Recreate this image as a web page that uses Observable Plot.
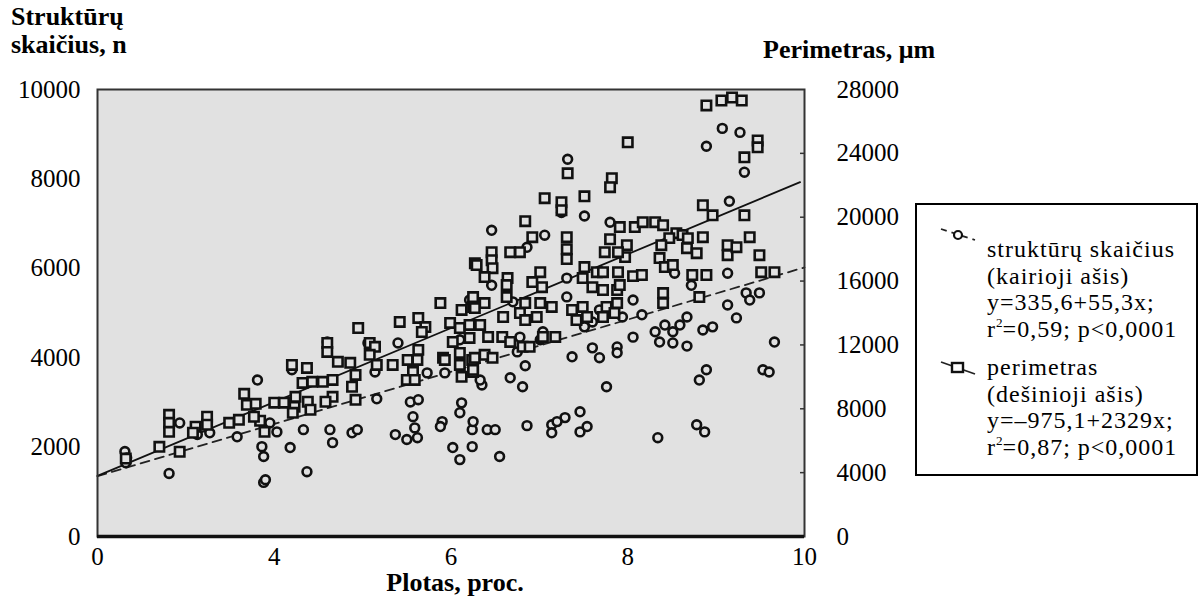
<!DOCTYPE html>
<html>
<head>
<meta charset="utf-8">
<script src="https://cdn.jsdelivr.net/npm/d3@7"></script>
<script src="https://cdn.jsdelivr.net/npm/@observablehq/plot@0.6"></script>
<style>
  body { margin: 0; background: #fff; }
  #wrap { position: relative; width: 1199px; height: 606px; font-family: "Liberation Serif", "Times New Roman", serif; color: #000; }
  #chart { position: absolute; left: 0; top: 0; }
  .ttl { position: absolute; font-family: "Liberation Serif", serif; font-weight: bold; font-size: 26px; line-height: 28px; white-space: nowrap; }
  #legend { position: absolute; left: 915px; top: 203px; width: 279px; height: 269px; border: 2px solid #000; background: #fff; }
  .lg { position: absolute; left: 70px; font-family: "Liberation Serif", serif; font-size: 24px; letter-spacing: 1px; line-height: 26.6px; white-space: nowrap; }
  .lg sup { font-size: 0.55em; line-height: 0; vertical-align: 0.75em; letter-spacing: 0; }
  .sym { position: absolute; left: 22px; }
</style>
</head>
<body>
<div id="wrap">
  <div id="chart"></div>
  <div class="ttl" style="left:11px; top:3px;">Struktūrų<br>skaičius, n</div>
  <div class="ttl" style="left:763px; top:36px;">Perimetras, μm</div>
  <div class="ttl" style="left:455px; top:569px; transform: translateX(-50%);">Plotas, proc.</div>
  <div id="legend">
    <svg class="sym" style="top:20px" width="40" height="20">
      <line x1="2" y1="4" x2="36" y2="15" stroke="#222" stroke-width="1.8" stroke-dasharray="6,5"/>
      <circle cx="19" cy="10" r="4" fill="#fff" stroke="#111" stroke-width="2.2"/>
    </svg>
    <div class="lg" style="top:31px;">struktūrų skaičius<br>(kairioji ašis)<br>y=335,6+55,3x;<br>r<sup>2</sup>=0,59; p&lt;0,0001</div>
    <svg class="sym" style="top:153px" width="40" height="20">
      <line x1="2" y1="4" x2="36" y2="16" stroke="#222" stroke-width="1.8"/>
      <rect x="13" y="5" width="11" height="9" fill="#fff" stroke="#111" stroke-width="2.4"/>
    </svg>
    <div class="lg" style="top:149px;">perimetras<br>(dešinioji ašis)<br>y=–975,1+2329x;<br>r<sup>2</sup>=0,87; p&lt;0,0001</div>
  </div>
</div>
<script>
// Tick values and labels
const xTicks = [2, 4, 6, 8, 10];
const xTickLabels = ["0", "4", "6", "8", "10"];
const leftTicks = [0, 2000, 4000, 6000, 8000, 10000];
const rightTicks = [0, 4000, 8000, 12000, 16000, 20000, 24000, 28000];
const rightMax = 28000;
const leftMax = 10000;

// Struktūrų skaičius (left axis) — [plotas, n]
const strukturuSkaicius = [
  [2.31,1900],[2.33,1760],[2.32,1650],[2.81,1410],[2.93,2540],[3.27,2320],[3.13,2280],[3.58,2230],
  [3.81,3500],[3.86,2010],[3.88,1790],[3.88,1210],[3.90,1270],[4.20,3730],[4.18,1990],[4.03,2340],
  [3.95,2540],[4.33,2390],[4.37,1450],[4.63,2390],[4.66,2100],[4.88,2320],[4.94,2390],[5.16,3080],
  [5.37,2280],[5.50,2170],[5.62,2210],[5.59,2430],[5.57,2680],[5.54,3010],[5.63,3060],[5.90,2570],
  [5.88,2460],[6.12,2990],[6.10,2770],[6.24,2390],[6.25,2570],[6.24,2010],[6.02,1990],[6.10,1720],
  [4.60,4350],[5.14,3680],[5.40,4330],[5.73,3660],[5.93,3660],[7.32,8440],[7.25,7250],[7.51,7170],
  [6.46,6850],[7.80,7030],[7.06,6740],[6.86,6470],[7.31,5780],[7.31,5360],[8.06,5290],[8.16,4960],
  [7.94,4910],[7.60,4800],[7.51,4690],[6.75,4130],[6.84,3820],[7.01,4400],[7.04,4580],[6.78,4460],
  [6.67,3550],[6.81,3350],[6.35,3390],[6.33,3500],[7.37,4020],[7.60,4220],[7.68,4000],[7.88,4240],
  [7.88,4110],[8.06,4460],[7.76,3350],[6.41,2390],[6.50,2390],[6.55,1790],[6.86,2480],[7.14,2500],
  [7.14,2320],[7.29,2660],[7.46,2790],[7.46,2340],[7.54,2460],[7.20,2570],[9.07,9130],[9.27,9040],
  [8.89,8730],[9.32,8150],[9.15,7500],[8.53,5890],[9.13,5890],[8.72,5620],[9.13,5180],[9.34,5450],
  [9.38,5290],[9.49,5450],[9.23,4890],[8.31,4580],[8.42,4730],[8.51,4580],[8.59,4730],[8.67,4910],
  [8.36,4350],[8.51,4330],[8.67,4260],[8.85,4620],[8.96,4690],[9.66,4350],[8.89,3730],[8.81,3500],
  [9.53,3730],[9.60,3680],[8.78,2500],[8.87,2340],[8.34,2210],[6.46,5620],[6.70,5250],[5.06,4330],
  [6.21,5290],[6.10,4400],[7.68,5070]
];

// Perimetras (right axis) — [plotas, µm]
const perimetras = [
  [2.32,4880],[2.70,5620],[2.93,5310],[2.81,7620],[2.81,7120],[2.81,6560],[3.11,6880],[3.08,6500],
  [3.24,7500],[3.24,7000],[3.49,7120],[3.60,7310],[3.66,8940],[3.69,8250],[3.79,8310],[3.84,7250],
  [3.89,6560],[3.77,7500],[4.20,10750],[4.00,8380],[4.11,8380],[4.23,8120],[6.27,17120],[5.88,14620],
  [6.12,14190],[6.25,15000],[6.25,14380],[5.42,13440],[5.63,13690],[5.71,13120],[5.67,12810],[4.95,13060],
  [5.99,13380],[6.10,13060],[6.21,13250],[6.21,12440],[6.02,12190],[6.10,11500],[5.91,11190],[6.10,10750],
  [6.24,11060],[6.12,10000],[6.25,10310],[4.60,12120],[4.60,11560],[4.72,10940],[4.86,10880],[4.92,10120],
  [4.88,9380],[4.92,8560],[5.08,12120],[5.14,11880],[5.08,11380],[5.16,10750],[5.34,10750],[5.51,11060],
  [5.63,11690],[5.62,11060],[5.57,10310],[5.50,9810],[5.59,9810],[5.93,11060],[4.37,10560],[4.32,9620],
  [4.43,9690],[4.55,9690],[4.66,9810],[4.24,8750],[4.38,8440],[4.66,8750],[4.58,8440],[4.41,7940],
  [4.21,7750],[7.32,22750],[7.82,22440],[7.80,21880],[7.06,21190],[7.25,20940],[7.25,20440],[7.51,21310],
  [6.84,19750],[7.91,19380],[8.08,19380],[8.17,19690],[6.92,18750],[6.67,17810],[6.78,17810],[7.31,18750],
  [7.31,18000],[7.31,17380],[7.80,18620],[7.74,17810],[7.99,18250],[7.97,17500],[7.89,17810],[6.46,17810],
  [6.46,17310],[6.29,17000],[6.47,16810],[7.51,16880],[7.65,16560],[7.72,16560],[7.89,16560],[8.06,16310],
  [7.01,16560],[6.92,15940],[7.03,15620],[6.64,16190],[6.63,15750],[6.63,15000],[6.38,16250],[7.49,16190],
  [7.60,15620],[7.72,15440],[7.88,15440],[7.91,15750],[6.38,14620],[6.27,14310],[6.84,14620],[7.01,14620],
  [7.14,14380],[6.78,14000],[6.59,13750],[6.97,13750],[6.84,13560],[7.37,14190],[7.49,14380],[7.42,13560],
  [7.54,13750],[7.76,14380],[7.88,14620],[7.72,13750],[7.85,14000],[6.33,13250],[6.42,12500],[6.58,12500],
  [6.67,12190],[6.81,11880],[6.89,11880],[7.18,12500],[7.04,12500],[6.27,11190],[6.38,11380],[6.47,11190],
  [6.25,10440],[8.89,27000],[9.06,27310],[9.18,27500],[9.29,27310],[9.47,24810],[9.47,24380],[9.32,23750],
  [8.00,24690],[8.85,20750],[8.96,20120],[9.32,20120],[8.31,19690],[8.40,19500],[8.55,19000],[8.62,18880],
  [8.47,18690],[8.38,18250],[8.68,18690],[8.85,18750],[8.67,18060],[8.78,17750],[9.13,18250],[9.13,17620],
  [9.23,18120],[9.38,18750],[9.49,17620],[8.36,17440],[8.42,16880],[8.51,17000],[8.73,16380],[8.89,16380],
  [8.81,15000],[9.51,16560],[9.66,16560],[8.16,16380],[8.40,15250],[8.40,14620]
];

// Regression lines
const trendSkaicius = [[2, 1350], [10, 6020]];      // dashed, left axis
const trendPerimetras = [[2, 3800], [9.95, 22200]]; // solid, right axis

const ratio = rightMax / leftMax;
const bg = "#e1e1e1";
const serif = "'Liberation Serif', 'Times New Roman', serif";

const chart = Plot.plot({
  width: 1199,
  height: 606,
  marginLeft: 97,
  marginRight: 395,
  marginTop: 89,
  marginBottom: 70,
  style: { fontFamily: serif, fontSize: "25px", color: "#000", background: "transparent", overflow: "visible" },
  x: { domain: [2, 10], label: null },
  y: { domain: [0, leftMax], label: null },
  marks: [
    Plot.frame({ fill: bg, stroke: null }),
    Plot.axisY(leftTicks, { anchor: "left", tickSize: 0, tickPadding: 17, label: null, fontSize: 25, fontFamily: serif, tickFormat: d => String(d) }),
    Plot.axisY(rightTicks.map(t => t / ratio), { anchor: "right", tickSize: 0, tickPadding: 32, label: null, fontSize: 25, fontFamily: serif, tickFormat: d => String(Math.round(d * ratio)) }),
    Plot.axisX(xTicks, { anchor: "bottom", tickSize: 0, tickPadding: 11, label: null, fontSize: 25, fontFamily: serif, tickFormat: d => xTickLabels[xTicks.indexOf(d)] }),
    Plot.ruleY(rightTicks.slice(1, -1).map(t => t / ratio), { x1: 9.955, x2: 10, stroke: "#333", strokeWidth: 1.5 }),
    Plot.line(trendSkaicius, { x: d => d[0], y: d => d[1], stroke: "#222", strokeWidth: 1.8, strokeDasharray: "9,6" }),
    Plot.line(trendPerimetras, { x: d => d[0], y: d => d[1] / ratio, stroke: "#111", strokeWidth: 1.8 }),
    Plot.dot(strukturuSkaicius, { x: d => d[0], y: d => d[1], r: 4.4, stroke: "#111", strokeWidth: 2.6, fill: bg }),
    Plot.dot(perimetras, { x: d => d[0], y: d => d[1] / ratio, symbol: "square", r: 5.3, stroke: "#111", strokeWidth: 2.6, fill: bg }),
    Plot.frame({ stroke: "#333", strokeWidth: 2 }),
    Plot.ruleY([0], { stroke: "#111", strokeWidth: 3.5 })
  ]
});
document.getElementById("chart").appendChild(chart);
</script>
</body>
</html>
